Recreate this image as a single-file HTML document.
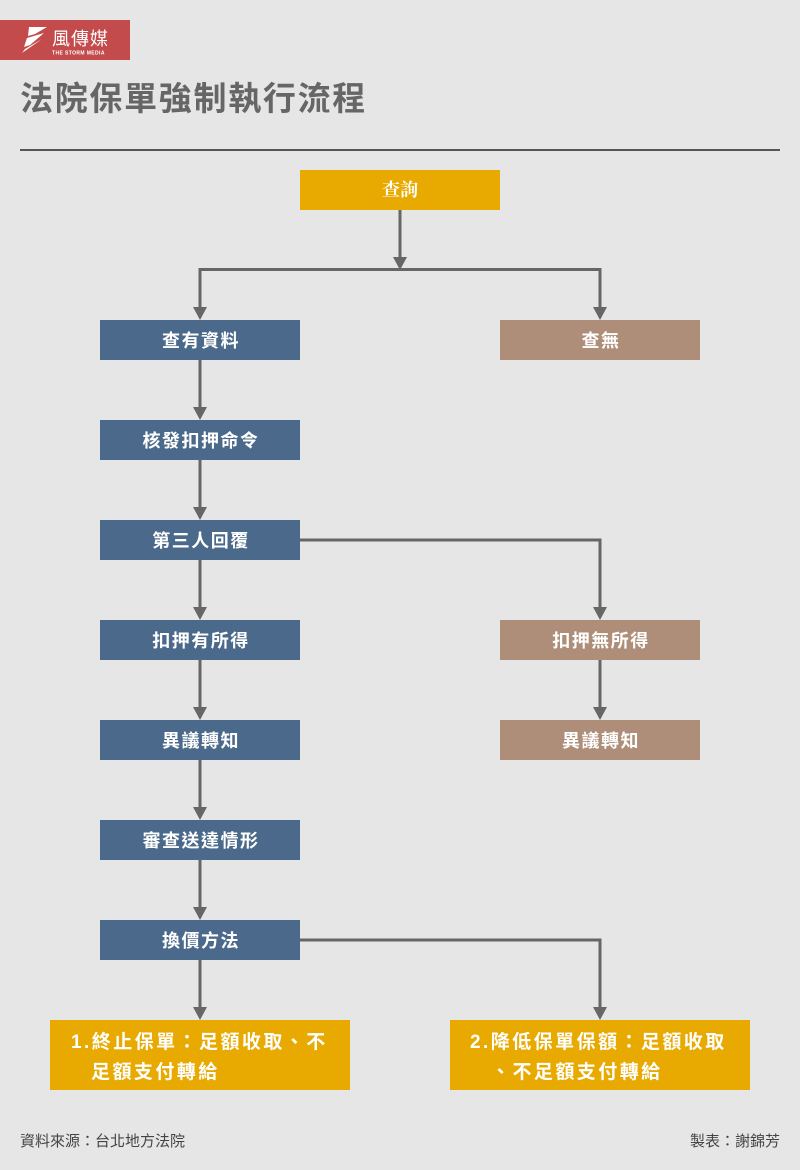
<!DOCTYPE html>
<html><head><meta charset="utf-8">
<style>
html,body{margin:0;padding:0;}
body{width:800px;height:1170px;background:#e6e6e6;overflow:hidden;position:relative;font-family:"Liberation Sans","Noto Sans CJK TC",sans-serif;}
svg{position:absolute;left:0;top:0;}
</style></head>
<body>
<svg width="800" height="1170" viewBox="0 0 800 1170" xmlns="http://www.w3.org/2000/svg">
<rect x="0" y="0" width="800" height="1170" fill="#e6e6e6"/>
<!-- logo -->
<rect x="0" y="20" width="130" height="40" fill="#c44b4c"/>
<polygon points="29,27 47,27 35,34 28,36" fill="#fff"/>
<polygon points="27,38 44,33 30,45 24,47" fill="#fff"/>
<polygon points="25,49 42,39 22,53" fill="#fff"/>
<text x="52" y="45" font-family="'Noto Sans CJK TC',sans-serif" font-size="18" fill="#fff" letter-spacing="1">風傳媒</text>
<text x="52" y="54.5" font-family="'Liberation Sans',sans-serif" font-size="5" font-weight="bold" fill="#fff" letter-spacing="0.4">THE STORM MEDIA</text>
<!-- title -->
<text x="20" y="110" font-family="'Liberation Sans','Noto Sans CJK TC',sans-serif" font-size="33" font-weight="bold" fill="#666" letter-spacing="1.7">法院保單強制執行流程</text>
<rect x="20" y="149" width="760" height="2" fill="#555"/>

<g fill="none" stroke="#666" stroke-width="3">
<line x1="400" y1="210" x2="400" y2="258"/>
<polyline points="200,310 200,269.5 600,269.5 600,310"/>
<line x1="200" y1="360" x2="200" y2="410"/>
<line x1="200" y1="460" x2="200" y2="510"/>
<line x1="200" y1="560" x2="200" y2="610"/>
<polyline points="300,540 600,540 600,610"/>
<line x1="200" y1="660" x2="200" y2="710"/>
<line x1="600" y1="660" x2="600" y2="710"/>
<line x1="200" y1="760" x2="200" y2="810"/>
<line x1="200" y1="860" x2="200" y2="910"/>
<line x1="200" y1="960" x2="200" y2="1010"/>
<polyline points="300,940 600,940 600,1010"/>
</g>
<g fill="#666">
<polygon points="393,257 407,257 400,270"/>
<polygon points="193,307 207,307 200,320"/>
<polygon points="593,307 607,307 600,320"/>
<polygon points="193,407 207,407 200,420"/>
<polygon points="193,507 207,507 200,520"/>
<polygon points="193,607 207,607 200,620"/>
<polygon points="593,607 607,607 600,620"/>
<polygon points="193,707 207,707 200,720"/>
<polygon points="593,707 607,707 600,720"/>
<polygon points="193,807 207,807 200,820"/>
<polygon points="193,907 207,907 200,920"/>
<polygon points="193,1007 207,1007 200,1020"/>
<polygon points="593,1007 607,1007 600,1020"/>
</g>

<!-- boxes -->
<rect x="300" y="170" width="200" height="40" fill="#e8a900"/>
<text x="400" y="196" text-anchor="middle" font-family="'Noto Serif CJK SC',serif" font-size="18" font-weight="bold" fill="#fff">查詢</text>

<g fill="#4b6a8b">
<rect x="100" y="320" width="200" height="40"/>
<rect x="100" y="420" width="200" height="40"/>
<rect x="100" y="520" width="200" height="40"/>
<rect x="100" y="620" width="200" height="40"/>
<rect x="100" y="720" width="200" height="40"/>
<rect x="100" y="820" width="200" height="40"/>
<rect x="100" y="920" width="200" height="40"/>
</g>
<g fill="#ae8e78">
<rect x="500" y="320" width="200" height="40"/>
<rect x="500" y="620" width="200" height="40"/>
<rect x="500" y="720" width="200" height="40"/>
</g>
<g font-family="'Liberation Sans','Noto Sans CJK TC',sans-serif" font-size="18" font-weight="bold" fill="#fff" text-anchor="middle" letter-spacing="1.5">
<text x="201" y="347">查有資料</text>
<text x="201" y="447">核發扣押命令</text>
<text x="201" y="547">第三人回覆</text>
<text x="201" y="647">扣押有所得</text>
<text x="201" y="747">異議轉知</text>
<text x="201" y="847">審查送達情形</text>
<text x="201" y="947">換價方法</text>
<text x="601" y="347">查無</text>
<text x="601" y="647">扣押無所得</text>
<text x="601" y="747">異議轉知</text>
</g>

<rect x="50" y="1020" width="300" height="70" fill="#e8a900"/>
<rect x="450" y="1020" width="300" height="70" fill="#e8a900"/>
<g font-family="'Liberation Sans','Noto Sans CJK TC',sans-serif" font-size="19" font-weight="bold" fill="#fff" letter-spacing="2.45">
<text x="71" y="1048">1.終止保單：足額收取、不</text>
<text x="91" y="1078">足額支付轉給</text>
<text x="470" y="1048">2.降低保單保額：足額收取</text>
<text x="491" y="1078">、不足額支付轉給</text>
</g>

<!-- footer -->
<g font-family="'Liberation Sans','Noto Sans CJK TC',sans-serif" font-size="15" fill="#444">
<text x="20" y="1146">資料來源：台北地方法院</text>
<text x="780" y="1146" text-anchor="end">製表：謝錦芳</text>
</g>
</svg>
</body></html>
